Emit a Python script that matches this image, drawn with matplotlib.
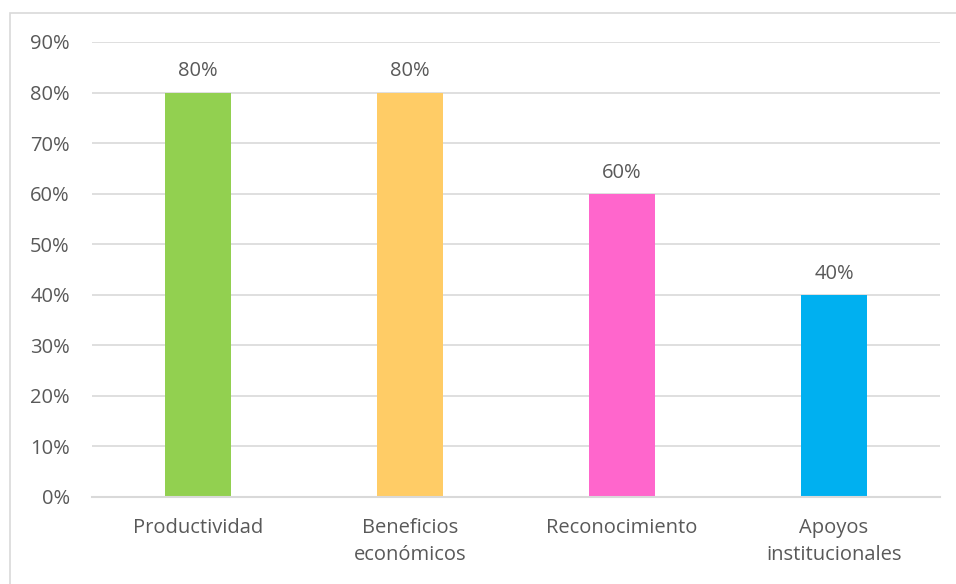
import matplotlib
matplotlib.use("Agg")
import matplotlib.pyplot as plt
from matplotlib.patches import Rectangle
from matplotlib.ticker import PercentFormatter

# Data
categories = ["Productividad", "Beneficios\neconómicos", "Reconocimiento", "Apoyos\ninstitucionales"]
values = [0.80, 0.80, 0.60, 0.40]
colors = ["#92D050", "#FFCC66", "#FF66CC", "#00B0F0"]
yticks = [0.0, 0.1, 0.2, 0.3, 0.4, 0.5, 0.6, 0.7, 0.8, 0.9]

plt.rcParams["font.family"] = ["Open Sans", "DejaVu Sans"]
text_color = "#595959"
grid_color = "#D9D9D9"

fig = plt.figure(figsize=(9.56, 5.84), dpi=100)
# chart area border
fig.patches.append(Rectangle((10 / 956, -0.05), 1.0, 1 - 13 / 584 + 0.05,
                             transform=fig.transFigure, fill=False,
                             edgecolor=grid_color, linewidth=1.2))

ax = fig.add_axes([92 / 956, 87 / 584, 848 / 956, 455 / 584])
x = range(len(categories))
bars = ax.bar(x, values, width=0.316, color=colors, zorder=3)

for b, v in zip(bars, values):
    ax.annotate(f"{v:.0%}", (b.get_x() + b.get_width() / 2, v),
                xytext=(0, 8), textcoords="offset points",
                ha="center", va="bottom", fontsize=14.5, color=text_color)

ax.set_xlim(-0.5, len(categories) - 0.5)
ax.set_ylim(0, 0.9)
ax.set_yticks(yticks)
ax.yaxis.set_major_formatter(PercentFormatter(1.0, decimals=0))
ax.set_xticks(list(x))
ax.set_xticklabels(categories, linespacing=1.45)
ax.tick_params(axis="both", length=0, labelsize=14.5, labelcolor=text_color)
ax.tick_params(axis="x", pad=15)
ax.tick_params(axis="y", pad=16)
for lbl in ax.get_yticklabels():
    lbl.set_horizontalalignment("right")

ax.grid(axis="y", color=grid_color, linewidth=1.2, zorder=0)
for s in ["top", "right", "left"]:
    ax.spines[s].set_visible(False)
ax.spines["bottom"].set_color(grid_color)
ax.spines["bottom"].set_linewidth(1.5)
ax.spines["bottom"].set_zorder(4)

fig.savefig("out.png", dpi=100)
